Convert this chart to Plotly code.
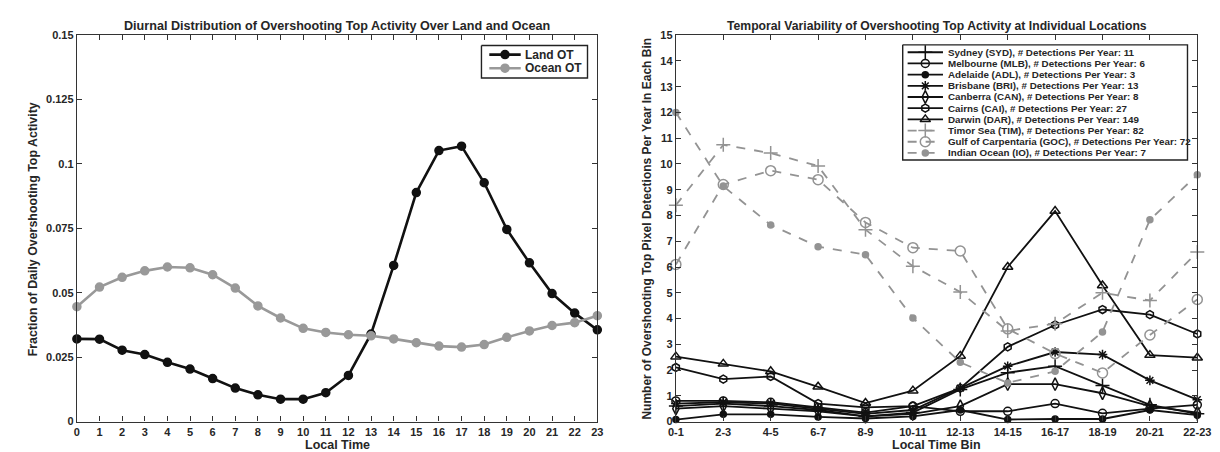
import plotly.graph_objects as go

# ---------------- data ----------------
hours = list(range(24))
land_ot = [0.0321, 0.0320, 0.0277, 0.0260, 0.0230, 0.0204, 0.0167, 0.0130, 0.0104, 0.0087, 0.0087, 0.0112,
           0.0179, 0.0340, 0.0606, 0.0889, 0.1052, 0.1069, 0.0927, 0.0746, 0.0616, 0.0497, 0.0421, 0.0356]
ocean_ot = [0.0446, 0.0522, 0.0560, 0.0585, 0.0600, 0.0597, 0.0570, 0.0518, 0.0449, 0.0402, 0.0362, 0.0346,
            0.0337, 0.0333, 0.0321, 0.0306, 0.0293, 0.0289, 0.0299, 0.0327, 0.0352, 0.0373, 0.0384, 0.0411]
left_yticks = [0, 0.025, 0.05, 0.075, 0.1, 0.125, 0.15]
left_yticktext = ["0", "0.025", "0.05", "0.075", "0.1", "0.125", "0.15"]

time_bins = ["0-1", "2-3", "4-5", "6-7", "8-9", "10-11", "12-13", "14-15", "16-17", "18-19", "20-21", "22-23"]
sydney = [0.60, 0.70, 0.60, 0.45, 0.20, 0.35, 1.25, 1.90, 2.15, 1.40, 0.65, 0.30]
melbourne = [0.80, 0.80, 0.75, 0.55, 0.35, 0.60, 0.40, 0.40, 0.70, 0.32, 0.50, 0.65]
adelaide = [0.08, 0.28, 0.28, 0.18, 0.12, 0.20, 0.45, 0.08, 0.10, 0.10, 0.45, 0.25]
brisbane = [0.70, 0.75, 0.70, 0.50, 0.30, 0.45, 1.30, 2.15, 2.70, 2.60, 1.60, 0.85]
canberra = [0.50, 0.60, 0.50, 0.40, 0.20, 0.30, 0.60, 1.45, 1.45, 1.10, 0.60, 0.35]
cairns = [2.10, 1.65, 1.75, 0.70, 0.55, 0.60, 1.30, 2.90, 3.75, 4.35, 4.15, 3.40]
darwin = [2.52, 2.24, 1.95, 1.35, 0.72, 1.20, 2.55, 6.00, 8.17, 5.28, 2.58, 2.48]
timor = [8.40, 10.74, 10.42, 9.92, 7.45, 6.03, 5.03, 3.52, 3.80, 5.00, 4.70, 6.58]
gulf = [6.10, 9.20, 9.74, 9.39, 7.73, 6.75, 6.62, 3.60, 2.64, 1.89, 3.36, 4.74]
indian = [12.00, 9.14, 7.63, 6.79, 6.48, 4.02, 2.30, 1.50, 1.95, 3.48, 7.83, 9.58]

site_names = ["Sydney (SYD), # Detections Per Year: 11",
              "Melbourne (MLB), # Detections Per Year: 6",
              "Adelaide (ADL), # Detections Per Year: 3",
              "Brisbane (BRI), # Detections Per Year: 13",
              "Canberra (CAN), # Detections Per Year: 8",
              "Cairns (CAI), # Detections Per Year: 27",
              "Darwin (DAR), # Detections Per Year: 149",
              "Timor Sea (TIM), # Detections Per Year: 82",
              "Gulf of Carpentaria (GOC), # Detections Per Year: 72",
              "Indian Ocean (IO), # Detections Per Year: 7"]
site_values = [sydney, melbourne, adelaide, brisbane, canberra, cairns, darwin, timor, gulf, indian]

# ---------------- styles ----------------
W, H = 1220, 452
BLACK = "#111111"
GRAY = "#939393"
TEXT = "#262626"
FONT = "Liberation Sans"

site_styles = [
    dict(color=BLACK, dash="solid", symbol="cross-thin-open", size=10, filled=False),
    dict(color=BLACK, dash="solid", symbol="circle-open", size=8, filled=False),
    dict(color=BLACK, dash="solid", symbol="circle", size=6, filled=True),
    dict(color=BLACK, dash="solid", symbol="asterisk-open", size=8, filled=False),
    dict(color=BLACK, dash="solid", symbol="diamond-tall-open", size=9, filled=False),
    dict(color=BLACK, dash="solid", symbol="hexagon-open", size=8, filled=False),
    dict(color=BLACK, dash="solid", symbol="triangle-up-open", size=9, filled=False),
    dict(color=GRAY, dash="dash", symbol="cross-thin-open", size=10, filled=False),
    dict(color=GRAY, dash="dash", symbol="circle-open", size=10, filled=False),
    dict(color=GRAY, dash="dash", symbol="circle", size=6, filled=True),
]
left_styles = [
    dict(color=BLACK, dash="solid", symbol="circle", size=8, filled=True, width=2.6),
    dict(color="#999999", dash="solid", symbol="circle", size=8, filled=True, width=2.6),
]


def px_x(p):
    return p / W


def px_y(p):
    return 1 - p / H


def marker_dict(st):
    return dict(symbol=st["symbol"], size=st["size"], color=st["color"],
                line=dict(color=st["color"], width=1.5))


fig = go.Figure()

# ---------------- left panel ----------------
for vals, st in zip([land_ot, ocean_ot], left_styles):
    fig.add_trace(go.Scatter(
        x=hours, y=vals, mode="lines+markers", xaxis="x", yaxis="y",
        line=dict(color=st["color"], width=st["width"]),
        marker=marker_dict(st), showlegend=False, cliponaxis=False))

# ---------------- right panel ----------------
for vals, st in zip(site_values, site_styles):
    fig.add_trace(go.Scatter(
        x=list(range(len(time_bins))), y=vals, mode="lines+markers", xaxis="x2", yaxis="y2",
        line=dict(color=st["color"], width=1.8, dash=st["dash"]),
        marker=marker_dict(st), showlegend=False, cliponaxis=False))

# ---------------- custom legends ----------------
def add_legend(axis_id, box, rows_y, line_x, marker_x, text_x, names, styles, font_size, line_w):
    L, T, R, B = box
    pad = 3
    bw, bh = R - L, B - T
    fig.update_layout(**{
        f"xaxis{axis_id}": dict(domain=[px_x(L - pad), px_x(R + pad)], range=[-pad, bw + pad],
                                visible=False, fixedrange=True),
        f"yaxis{axis_id}": dict(domain=[px_y(B + pad), px_y(T - pad)], range=[bh + pad, -pad],
                                visible=False, fixedrange=True),
    })
    xa, ya = f"x{axis_id}", f"y{axis_id}"
    fig.add_trace(go.Scatter(x=[0, bw, bw, 0, 0], y=[0, 0, bh, bh, 0], mode="lines", fill="toself",
                             fillcolor="white", line=dict(color="#222222", width=1.4),
                             xaxis=xa, yaxis=ya, showlegend=False, hoverinfo="skip"))
    for ry, name, st in zip(rows_y, names, styles):
        yy = ry - T
        fig.add_trace(go.Scatter(x=[line_x[0] - L, line_x[1] - L], y=[yy, yy], mode="lines",
                                 line=dict(color=st["color"], width=line_w, dash=st["dash"]),
                                 xaxis=xa, yaxis=ya, showlegend=False, hoverinfo="skip"))
        fig.add_trace(go.Scatter(x=[marker_x - L], y=[yy], mode="markers", marker=marker_dict(st),
                                 xaxis=xa, yaxis=ya, showlegend=False, hoverinfo="skip", cliponaxis=False))
        fig.add_annotation(x=px_x(text_x), y=px_y(ry), xref="paper", yref="paper", text=name,
                           showarrow=False, xanchor="left", yanchor="middle",
                           font=dict(family=FONT, size=font_size, color=TEXT, weight="bold"))


add_legend(3, (474, 32.3, 582, 65.7), [41.7, 55.7], (482, 514), 498, 516,
           ["Land OT", "Ocean OT"], left_styles, 12, 2.6)
add_legend(4, (903, 31.7, 1193, 150), [39.3 + i * 11.49 for i in range(10)], (908, 944), 926, 947,
           site_names, site_styles, 9.8, 1.8)

# ---------------- axes ----------------
tickfont = dict(family=FONT, size=11, color=TEXT, weight="bold")
axis_common = dict(showline=True, linecolor="#333333", linewidth=1.2, mirror="ticks", ticks="inside",
                   ticklen=5, tickcolor="#333333", showgrid=False, zeroline=False, tickfont=tickfont,
                   fixedrange=True)

fig.update_layout(
    width=W, height=H,
    margin=dict(l=0, r=0, t=0, b=0),
    paper_bgcolor="white", plot_bgcolor="white",
    showlegend=False,
    xaxis=dict(domain=[px_x(62), px_x(592)], range=[0, 23], tickvals=hours, anchor="y", **axis_common),
    yaxis=dict(domain=[px_y(418.7), px_y(21.7)], range=[0, 0.15], tickvals=left_yticks,
               ticktext=left_yticktext, anchor="x", **axis_common),
    xaxis2=dict(domain=[px_x(672), px_x(1203)], range=[0, len(time_bins) - 1],
                tickvals=list(range(len(time_bins))), ticktext=time_bins, anchor="y2", **axis_common),
    yaxis2=dict(domain=[px_y(418.7), px_y(21.7)], range=[0, 15], tickvals=list(range(16)),
                anchor="x2", **axis_common),
)

# ---------------- titles ----------------
def add_text(text, x, y, size, angle=0):
    fig.add_annotation(x=px_x(x), y=px_y(y), xref="paper", yref="paper", text=text, showarrow=False,
                       xanchor="center", yanchor="middle", textangle=angle,
                       font=dict(family=FONT, size=size, color=TEXT, weight="bold"))


add_text("Diurnal Distribution of Overshooting Top Activity Over Land and Ocean", 327, 12.5, 12.6)
add_text("Temporal Variability of Overshooting Top Activity at Individual Locations", 937.5, 12.5, 12.2)
add_text("Local Time", 327, 443, 12.5)
add_text("Local Time Bin", 937.5, 443, 12.5)
add_text("Fraction of Daily Overshooting Top Activity", 17.5, 221, 12.4, angle=-90)
add_text("Number of Overshooting Top Pixel Detections Per Year In Each Bin", 643, 220, 12, angle=-90)

fig.write_html("out.html")
